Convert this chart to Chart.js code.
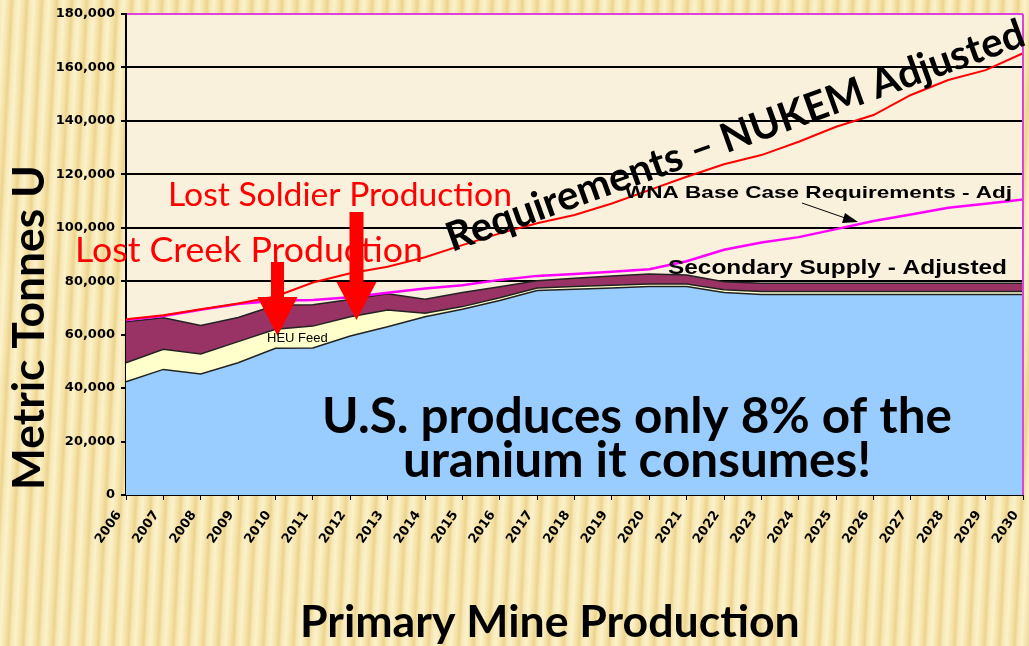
<!DOCTYPE html>
<html>
<head>
<meta charset="utf-8">
<script src="https://cdn.jsdelivr.net/npm/chart.js@4.4.1/dist/chart.umd.min.js"></script>
<style>
  html, body { margin: 0; padding: 0; }
  body {
    width: 1029px;
    height: 646px;
    overflow: hidden;
    background: repeating-linear-gradient(93deg, #f7e8b5 0px, #fbf1cc 4px, #f4e1a4 9px, #ecd48f 12px, #f7e8b5 15px);
  }
</style>
</head>
<body>
<canvas id="graficoUranio" width="1029" height="646"></canvas>
<script>
// Años del eje X
const anios = ["2006", "2007", "2008", "2009", "2010", "2011", "2012", "2013", "2014", "2015", "2016", "2017", "2018",
  "2019", "2020", "2021", "2022", "2023", "2024", "2025", "2026", "2027", "2028", "2029", "2030"]

// Producción primaria de minas (área azul)
const produccionPrimaria = [42400, 47000, 45300, 49500, 54900, 55000, 59500, 63000, 66700, 69500, 72800, 76500, 77000,
  77500, 78000, 78000, 75800, 75000, 75000, 75000, 75000, 75000, 75000, 75000, 75000]

// HEU Feed (área crema, apilada)
const heuFeed = [7100, 7500, 7500, 7900, 7100, 8200, 7200, 6200, 1300, 1000, 1000, 1000, 1000,
  1000, 1000, 1000, 1000, 1200, 1200, 1200, 1200, 1200, 1200, 1200, 1200]

// Suministro secundario ajustado (área morada, apilada)
const suministroSecundario = [15300, 11800, 10600, 9000, 9000, 8000, 6500, 6100, 5300, 5300, 4100, 2700, 3100,
  3500, 3700, 3300, 3000, 3000, 3000, 3000, 3000, 3000, 3000, 3000, 3000]

// Requerimientos NUKEM ajustados (línea roja)
const requerimientosNukem = [65800, 67300, 69500, 71700, 74300, 79500, 83000, 85400, 89000, 93500, 97900, 101700, 104800,
  109100, 114100, 119100, 123800, 127200, 132200, 137800, 142200, 149700, 155300, 159000, 165300]

// Requerimientos WNA caso base (línea magenta)
const requerimientosWna = [65500, 67000, 69300, 71500, 72700, 73000, 74000, 75700, 77300, 78500, 80500, 82000, 82700,
  83500, 84500, 87500, 91800, 94500, 96500, 99500, 102500, 105000, 107500, 109000, 110600]

// Escala Y
const yMaximo = 180000
const yPaso = 20000

const colores = {
  azul: "#99ccff",
  crema: "#ffffcc",
  morado: "#993366",
  rojo: "#ff0000",
  magenta: "#ff00ff",
  fondoGrafico: "#faf1dd",
  borde: "#222222",
}

// Ajusta el tamaño de fuente para que el texto ocupe un ancho dado
function fuenteParaAncho(ctx, texto, ancho, peso, familia) {
  ctx.font = `${peso} 100px ${familia}`
  return (100 * ancho) / ctx.measureText(texto).width
}

function textoAjustado(ctx, texto, x, y, ancho, peso, familia, color) {
  const size = fuenteParaAncho(ctx, texto, ancho, peso, familia)
  ctx.font = `${peso} ${size}px ${familia}`
  ctx.fillStyle = color
  ctx.textAlign = "left"
  ctx.textBaseline = "alphabetic"
  ctx.fillText(texto, x, y)
  return size
}

// Texto Arial estirado horizontalmente (como en la diapositiva original)
function textoEstirado(ctx, texto, x, y, ancho, size, peso) {
  ctx.font = `${peso} ${size}px "Liberation Sans", Arial, sans-serif`
  const w = ctx.measureText(texto).width
  ctx.save()
  ctx.translate(x, y)
  ctx.scale(ancho / w, 1)
  ctx.fillStyle = "#000"
  ctx.textAlign = "left"
  ctx.textBaseline = "alphabetic"
  ctx.fillText(texto, 0, 0)
  ctx.restore()
}

function flechaAbajo(ctx, x, yInicio, yBaseCabeza, yPunta, anchoAsta, medioCabeza) {
  ctx.fillStyle = colores.rojo
  ctx.fillRect(x - anchoAsta / 2, yInicio, anchoAsta, yBaseCabeza - yInicio + 1)
  ctx.beginPath()
  ctx.moveTo(x - medioCabeza, yBaseCabeza)
  ctx.lineTo(x + medioCabeza, yBaseCabeza)
  ctx.lineTo(x, yPunta)
  ctx.closePath()
  ctx.fill()
}

const anotaciones = {
  id: "anotaciones",
  beforeDraw(chart) {
    const { ctx, chartArea: a } = chart
    ctx.save()
    ctx.fillStyle = colores.fondoGrafico
    ctx.fillRect(a.left, a.top, a.right - a.left, a.bottom - a.top)
    ctx.restore()
  },
  afterDraw(chart) {
    const { ctx, chartArea: a } = chart
    ctx.save()

    // borde derecho magenta
    ctx.strokeStyle = "#e040e0"
    ctx.lineWidth = 2
    ctx.beginPath()
    ctx.moveTo(a.right, a.top)
    ctx.lineTo(a.right, a.bottom)
    ctx.stroke()

    const calibri = "Lato, 'Open Sans', sans-serif"

    // Lost Soldier / Lost Creek
    textoAjustado(ctx, "Lost Soldier Production", 168, 206, 344, "normal", calibri, colores.rojo)
    textoAjustado(ctx, "Lost Creek Production", 75, 262, 348, "normal", calibri, colores.rojo)

    // Flechas rojas
    flechaAbajo(ctx, 277.5, 262, 297, 336, 13, 20)
    flechaAbajo(ctx, 356.5, 212, 282, 320, 14, 20)

    // HEU Feed
    ctx.font = '13px "Liberation Sans", Arial, sans-serif'
    ctx.fillStyle = "#000"
    ctx.fillText("HEU Feed", 267, 342)

    // Requirements – NUKEM Adjusted (rotado)
    ctx.save()
    ctx.translate(452, 252)
    ctx.rotate((-19.8 * Math.PI) / 180)
    textoAjustado(ctx, "Requirements \u2013 NUKEM Adjusted", 0, 0, 612, "bold", calibri, "#000")
    ctx.restore()

    // WNA Base Case Requirements - Adj
    textoEstirado(ctx, "WNA Base Case Requirements - Adj", 625, 198, 387, 17, "bold")
    ctx.strokeStyle = "#000"
    ctx.lineWidth = 1
    ctx.beginPath()
    ctx.moveTo(802, 203)
    ctx.lineTo(848, 219)
    ctx.stroke()
    ctx.fillStyle = "#000"
    ctx.beginPath()
    ctx.moveTo(858, 222)
    ctx.lineTo(845, 213)
    ctx.lineTo(842, 223)
    ctx.closePath()
    ctx.fill()

    // Secondary Supply - Adjusted
    textoEstirado(ctx, "Secondary Supply - Adjusted", 668, 274, 339, 21, "bold")

    // Mensaje central
    const linea1 = "U.S. produces only 8% of the"
    const linea2 = "uranium it consumes!"
    const size = fuenteParaAncho(ctx, linea1, 630, "bold", calibri)
    ctx.font = `bold ${size}px ${calibri}`
    ctx.fillStyle = "#000"
    ctx.textAlign = "center"
    ctx.fillText(linea1, 637, 433)
    ctx.fillText(linea2, 637, 477)

    // Título eje Y
    ctx.save()
    ctx.translate(44, 490)
    ctx.rotate(-Math.PI / 2)
    textoAjustado(ctx, "Metric Tonnes U", 0, 0, 325, "bold", calibri, "#000")
    ctx.restore()

    // Título eje X
    textoAjustado(ctx, "Primary Mine Production", 300, 637, 500, "bold", calibri, "#000")

    ctx.restore()
  },
}

const ctxUranio = document.getElementById("graficoUranio").getContext("2d")
const graficoUranio = new Chart(ctxUranio, {
  type: "line",
  data: {
    labels: anios,
    datasets: [
      {
        label: "Requirements - NUKEM Adjusted",
        data: requerimientosNukem,
        stack: "nukem",
        borderColor: colores.rojo,
        borderWidth: 2,
        fill: false,
        pointRadius: 0,
        tension: 0,
      },
      {
        label: "WNA Base Case Requirements - Adj",
        data: requerimientosWna,
        stack: "wna",
        borderColor: colores.magenta,
        borderWidth: 2.5,
        fill: false,
        pointRadius: 0,
        tension: 0,
      },
      {
        label: "Primary Mine Production",
        data: produccionPrimaria,
        stack: "oferta",
        borderColor: colores.borde,
        borderWidth: 1.5,
        backgroundColor: colores.azul,
        fill: "origin",
        pointRadius: 0,
        tension: 0,
      },
      {
        label: "HEU Feed",
        data: heuFeed,
        stack: "oferta",
        borderColor: colores.borde,
        borderWidth: 1.5,
        backgroundColor: colores.crema,
        fill: "-1",
        pointRadius: 0,
        tension: 0,
      },
      {
        label: "Secondary Supply - Adjusted",
        data: suministroSecundario,
        stack: "oferta",
        borderColor: colores.borde,
        borderWidth: 1.5,
        backgroundColor: colores.morado,
        fill: "-1",
        pointRadius: 0,
        tension: 0,
      },
    ],
  },
  options: {
    responsive: false,
    animation: false,
    devicePixelRatio: 1,
    layout: {
      padding: { left: 0, right: 6, top: 14, bottom: 0 },
    },
    plugins: {
      legend: { display: false },
      tooltip: { enabled: false },
    },
    scales: {
      x: {
        type: "category",
        offset: false,
        grid: {
          display: true,
          drawOnChartArea: false,
          color: "#000",
          tickLength: 5,
          lineWidth: 1,
        },
        border: { display: true, color: "#000", width: 2 },
        ticks: {
          autoSkip: false,
          minRotation: 55,
          maxRotation: 55,
          color: "#000",
          padding: 8,
          labelOffset: -7,
          font: { family: "'DejaVu Sans'", weight: "bold", size: 13 },
        },
        afterFit: (escala) => {
          escala.height = 151
          escala.paddingLeft = 0
          escala.paddingRight = 0
        },
      },
      y: {
        stacked: true,
        min: 0,
        max: yMaximo,
        grid: {
          color: (c) => (c.tick && c.tick.value === yMaximo ? "#e040e0" : "#000"),
          lineWidth: 2,
          tickLength: 5,
          tickColor: "#000",
        },
        border: { display: true, color: "#000", width: 2 },
        ticks: {
          stepSize: yPaso,
          color: "#000",
          padding: 6,
          font: { family: "'DejaVu Sans'", weight: "bold", size: 13 },
          callback: (valor) => valor.toLocaleString("en-US"),
        },
        afterFit: (escala) => {
          escala.width = 126
          escala.paddingTop = 0
          escala.paddingBottom = 0
        },
      },
    },
  },
  plugins: [anotaciones],
})
</script>
</body>
</html>
